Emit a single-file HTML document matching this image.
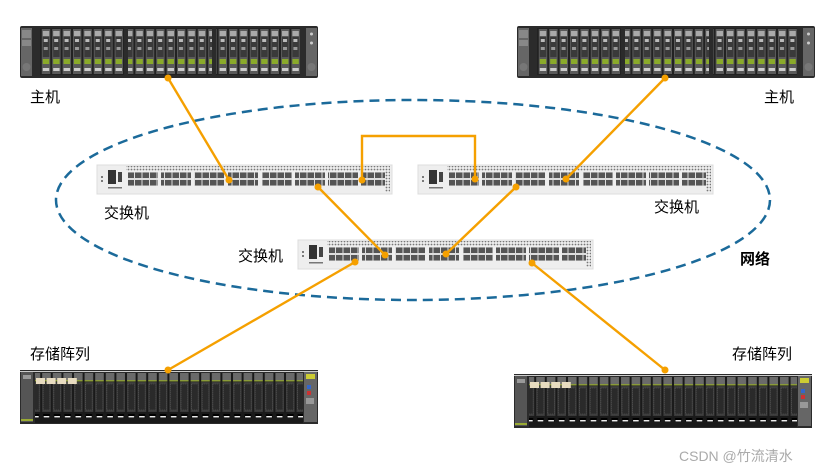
<!DOCTYPE html>
<html><head><meta charset="utf-8"><style>
html,body{margin:0;padding:0;background:#fff;width:830px;height:474px;overflow:hidden}
text{font-family:"Liberation Sans","Noto Sans CJK SC",sans-serif}
</style></head><body>
<svg width="830" height="474" viewBox="0 0 830 474" xmlns="http://www.w3.org/2000/svg">
<defs>
<pattern id="bay" x="0" y="0" width="10.4" height="52" patternUnits="userSpaceOnUse">
<rect x="0" y="0" width="10.4" height="52" fill="#222"/>
<rect x="1" y="3" width="8.4" height="45" fill="#5a5a5a"/>
<rect x="2" y="5" width="6.4" height="5" fill="#aaa"/>
<rect x="2" y="11" width="6.4" height="20" fill="#3a3a3a"/>
<rect x="3" y="13" width="4" height="3" fill="#bbb"/>
<rect x="3" y="21" width="4" height="3" fill="#999"/>
<rect x="2" y="33" width="6.4" height="5" fill="#8aaa2a"/>
<rect x="2" y="42" width="6.4" height="3" fill="#ccc"/>
</pattern>
<pattern id="sbay" x="0" y="0" width="10.6" height="54" patternUnits="userSpaceOnUse">
<rect x="0" y="0" width="10.6" height="54" fill="#1a1a1a"/>
<rect x="1" y="2" width="8.6" height="8" fill="#6a6a6a"/>
<rect x="1" y="10" width="8.6" height="1.5" fill="#8a9a3a"/>
<rect x="1" y="12" width="8.6" height="30" fill="#3a3a3a"/>
<rect x="2" y="14" width="6.6" height="26" fill="#2a2a2a" stroke="#666" stroke-width="0.6" stroke-dasharray="1 1"/>
<rect x="2" y="44" width="6.6" height="4" fill="#000"/>
<rect x="2.5" y="46" width="5.6" height="1.5" fill="#eee"/>
</pattern>
<pattern id="port" x="0" y="0" width="7.5" height="14" patternUnits="userSpaceOnUse">
<rect x="0" y="0" width="7.5" height="14" fill="#ddd"/>
<rect x="0.5" y="1" width="6.5" height="5.5" fill="#555"/>
<rect x="0.5" y="7.5" width="6.5" height="5.5" fill="#555"/>
</pattern>
<pattern id="dots" x="0" y="0" width="3" height="3" patternUnits="userSpaceOnUse">
<rect width="3" height="3" fill="#eee"/><circle cx="1.5" cy="1.5" r="0.9" fill="#777"/>
</pattern>
<g id="server">
<rect x="0" y="0" width="298" height="52" fill="#2b2b2b" rx="2"/>
<rect x="1" y="2" width="11" height="48" fill="#666"/>
<rect x="2" y="4" width="9" height="8" fill="#888"/><rect x="2" y="14" width="9" height="6" fill="#888"/>
<circle cx="6.5" cy="41" r="4" fill="#777"/>
<rect x="286" y="2" width="11" height="48" fill="#666"/>
<circle cx="291.5" cy="8" r="1.5" fill="#ccc"/><circle cx="291.5" cy="17" r="1.5" fill="#ccc"/>
<circle cx="291.5" cy="41" r="4" fill="#777"/>
<rect x="20" y="2" width="84" height="47" fill="url(#bay)"/>
<rect x="108" y="2" width="84" height="47" fill="url(#bay)"/>
<rect x="196" y="2" width="84" height="47" fill="url(#bay)"/>
</g>
<g id="storage">
<rect x="0" y="0" width="298" height="54" fill="#2b2b2b"/>
<rect x="0" y="1" width="298" height="1" fill="#ccc"/>
<rect x="1" y="2" width="12" height="50" fill="#555"/>
<rect x="3" y="5" width="8" height="4" fill="#999"/>
<rect x="1" y="49" width="12" height="2" fill="#9a3"/>
<rect x="284" y="2" width="13" height="50" fill="#666"/>
<rect x="286" y="4" width="9" height="5" fill="#cc3"/>
<rect x="287" y="15" width="4" height="4" fill="#36c"/><rect x="287" y="21" width="4" height="4" fill="#c33"/>
<rect x="286" y="28" width="8" height="6" fill="#999"/>
<rect x="15" y="3" width="268" height="50" fill="url(#sbay)"/>
<rect x="16" y="8" width="9" height="6" fill="#e8dcc0"/>
<rect x="26.6" y="8" width="9" height="6" fill="#e8dcc0"/>
<rect x="37.2" y="8" width="9" height="6" fill="#e8dcc0"/>
<rect x="47.8" y="8" width="9" height="6" fill="#e8dcc0"/>
</g>
<g id="switch">
<rect x="0" y="0" width="295" height="29" fill="#eeeeee"/>
<rect x="0" y="0" width="295" height="29" fill="none" stroke="#ddd"/>
<rect x="11" y="5" width="8" height="14" fill="#333"/>
<rect x="21" y="7" width="4" height="10" fill="#444"/>
<rect x="11" y="22" width="14" height="1.5" fill="#777"/>
<circle cx="5" cy="12" r="1" fill="#555"/><circle cx="5" cy="16" r="1" fill="#555"/>
<rect x="29" y="1" width="263" height="5" fill="url(#dots)"/>
<rect x="288" y="1" width="5" height="26" fill="url(#dots)"/>
<rect x="31" y="7" width="30" height="14" fill="url(#port)"/>
<rect x="64" y="7" width="30" height="14" fill="url(#port)"/>
<rect x="97" y="7" width="30" height="14" fill="url(#port)"/>
<rect x="131" y="7" width="30" height="14" fill="url(#port)"/>
<rect x="165" y="7" width="30" height="14" fill="url(#port)"/>
<rect x="198" y="7" width="30" height="14" fill="url(#port)"/>
<rect x="231" y="7" width="30" height="14" fill="url(#port)"/>
<rect x="264" y="7" width="24" height="14" fill="url(#port)"/>
</g>
</defs>

<ellipse cx="413" cy="200" rx="357" ry="100" fill="none" stroke="#1b6a9a" stroke-width="2.5" stroke-dasharray="10 6"/>

<use href="#server" x="20" y="26"/>
<use href="#server" x="517" y="26"/>
<use href="#switch" x="97" y="165"/>
<use href="#switch" x="418" y="165"/>
<use href="#switch" x="298" y="240"/>
<use href="#storage" x="20" y="370"/>
<use href="#storage" x="514" y="374"/>

<g stroke="#f5a000" stroke-width="2.4" fill="none">
<line x1="168" y1="78" x2="229" y2="180"/>
<line x1="665" y1="78" x2="566" y2="179"/>
<polyline points="362,180 362,136 475,136 475,179"/>
<line x1="318" y1="187" x2="385" y2="255"/>
<line x1="516" y1="187" x2="446" y2="254"/>
<line x1="355" y1="262" x2="168" y2="370"/>
<line x1="532" y1="263" x2="665" y2="370"/>
</g>
<g fill="#f5a000">
<circle cx="168" cy="78" r="3.5"/><circle cx="229" cy="180" r="3.5"/>
<circle cx="665" cy="78" r="3.5"/><circle cx="566" cy="179" r="3.5"/>
<circle cx="362" cy="180" r="3.5"/><circle cx="475" cy="179" r="3.5"/>
<circle cx="318" cy="187" r="3.5"/><circle cx="385" cy="255" r="3.5"/>
<circle cx="516" cy="187" r="3.5"/><circle cx="446" cy="254" r="3.5"/>
<circle cx="355" cy="262" r="3.5"/><circle cx="168" cy="370" r="3.5"/>
<circle cx="532" cy="263" r="3.5"/><circle cx="665" cy="370" r="3.5"/>
</g>

<g font-size="15" fill="#000">
<text x="30" y="102">主机</text>
<text x="764" y="102">主机</text>
<text x="104" y="218">交换机</text>
<text x="654" y="212">交换机</text>
<text x="238" y="261">交换机</text>
<text x="30" y="359">存储阵列</text>
<text x="732" y="359">存储阵列</text>
<text x="740" y="264" font-weight="bold">网络</text>
</g>
<text x="679" y="461" font-size="14" fill="#aaa">CSDN @竹流清水</text>
</svg>
</body></html>
